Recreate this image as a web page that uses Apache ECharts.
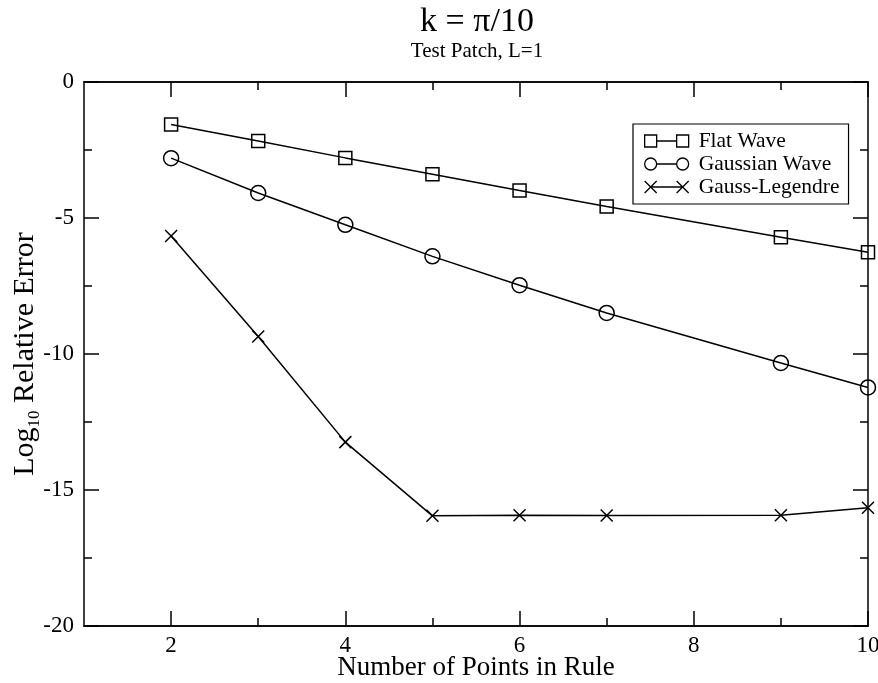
<!DOCTYPE html>
<html>
<head>
<meta charset="utf-8">
<script src="https://cdn.jsdelivr.net/npm/echarts@6/dist/echarts.min.js"></script>
<style>html,body{margin:0;padding:0;background:#fff;}#c{width:878px;height:683px;}</style>
</head>
<body>
<div id="c"></div>
<script>
const xValues = [2, 3, 4, 5, 6, 7, 9, 10];
const flatWave = [-1.56, -2.17, -2.79, -3.39, -3.99, -4.58, -5.71, -6.26];
const gaussianWave = [-2.80, -4.08, -5.25, -6.41, -7.47, -8.49, -10.33, -11.23];
const gaussLegendre = [-5.66, -9.36, -13.24, -15.95, -15.93, -15.94, -15.93, -15.65];
const xMajorTicks = [2, 4, 6, 8, 10];
const xMinorTicks = [3, 5, 7, 9];
const seriesNames = ['Flat Wave', 'Gaussian Wave', 'Gauss-Legendre'];

const FONT = '"Liberation Serif", "DejaVu Serif", serif';
const pair = (xs, ys) => xs.map((x, i) => [x, ys[i]]);

const chart = echarts.init(document.getElementById('c'), null, {renderer: 'canvas'});

const axisLine = {show: true, onZero: false, lineStyle: {color: '#000', width: 1.5}};
function xAxisDef(pos, ticks, len, labels) {
  return {
    type: 'value', position: pos, min: 1, max: 10,
    axisLine: axisLine,
    splitLine: {show: false},
    axisTick: {show: true, inside: true, length: len, customValues: ticks, lineStyle: {color: '#000', width: 1.5}},
    axisLabel: labels ? {show: true, customValues: xMajorTicks, fontFamily: FONT, fontSize: 23, color: '#000', margin: 8} : {show: false}
  };
}
function yAxisDef(pos, labels) {
  return {
    type: 'value', position: pos, min: -20, max: 0, interval: 5,
    axisLine: axisLine,
    splitLine: {show: false},
    axisTick: {show: true, inside: true, length: 15, lineStyle: {color: '#000', width: 1.5}},
    minorTick: {show: true, splitNumber: 2, length: 8, lineStyle: {color: '#000', width: 1.5}},
    axisLabel: labels ? {show: true, fontFamily: FONT, fontSize: 23, color: '#000', margin: 10} : {show: false}
  };
}

const xAxes = [
  xAxisDef('bottom', xMajorTicks, 15, true),
  xAxisDef('bottom', xMinorTicks, 8, false),
  xAxisDef('top', xMajorTicks, 15, false),
  xAxisDef('top', xMinorTicks, 8, false)
];
xAxes[0].name = 'Number of Points in Rule';
xAxes[0].nameLocation = 'middle';
xAxes[0].nameGap = 28;
xAxes[0].nameMoveOverlap = false;
xAxes[0].nameTextStyle = {fontFamily: FONT, fontSize: 27, color: '#000'};

const yAxes = [yAxisDef('left', true), yAxisDef('right', false)];
yAxes[0].name = '{a|Log}{s|10}{a| Relative Error}';
yAxes[0].nameLocation = 'middle';
yAxes[0].nameRotate = 90;
yAxes[0].nameGap = 41;
yAxes[0].nameMoveOverlap = false;
yAxes[0].nameTextStyle = {
  fontFamily: FONT, fontSize: 30, color: '#000',
  rich: {
    a: {fontFamily: FONT, fontSize: 30, color: '#000', lineHeight: 36},
    s: {fontFamily: FONT, fontSize: 17, color: '#000', lineHeight: 36, verticalAlign: 'bottom'}
  }
};

const lineStyle = {color: '#000', width: 1.5};
const option = {
  backgroundColor: '#fff',
  animation: false,
  title: {
    text: 'k = \u03c0/10', subtext: 'Test Patch, L=1',
    left: 472, top: 0, textAlign: 'center', itemGap: 2,
    textStyle: {fontFamily: FONT, fontSize: 34, fontWeight: 'normal', color: '#000'},
    subtextStyle: {fontFamily: FONT, fontSize: 21, color: '#000'}
  },
  grid: {left: 84, right: 10, top: 82, bottom: 57, containLabel: false, outerBoundsMode: 'none'},
  legend: {
    orient: 'vertical', left: 633, top: 124,
    backgroundColor: '#fff', borderColor: '#000', borderWidth: 1.2, borderRadius: 0,
    padding: [6, 9, 6, 11], itemGap: 1, itemWidth: 44, itemHeight: 13,
    textStyle: {fontFamily: FONT, fontSize: 21.5, color: '#000', lineHeight: 20, padding: [0, 0, 0, 5]},
    data: [
      {name: seriesNames[0], icon: 'path://M0,0h12v12h-12z M32,0h12v12h-12z M12,6h20'},
      {name: seriesNames[1], icon: 'path://M0,6a6,6 0 1,0 12,0a6,6 0 1,0 -12,0z M32,6a6,6 0 1,0 12,0a6,6 0 1,0 -12,0z M12,6h20'},
      {name: seriesNames[2], icon: 'path://M0,0L12,12M12,0L0,12 M32,0L44,12M44,0L32,12 M6,6H38'}
    ],
    itemStyle: {borderColor: '#000', borderWidth: 1.3}
  },
  xAxis: xAxes,
  yAxis: yAxes,
  series: [
    {
      name: seriesNames[0], type: 'line', xAxisIndex: 0, yAxisIndex: 0,
      data: pair(xValues, flatWave), symbol: 'rect', symbolSize: 13,
      itemStyle: {color: 'rgba(255,255,255,0)', borderColor: '#000', borderWidth: 1.5},
      lineStyle: lineStyle
    },
    {
      name: seriesNames[1], type: 'line', xAxisIndex: 0, yAxisIndex: 0,
      data: pair(xValues, gaussianWave), symbol: 'circle', symbolSize: 15,
      itemStyle: {color: 'rgba(255,255,255,0)', borderColor: '#000', borderWidth: 1.5},
      lineStyle: lineStyle
    },
    {
      name: seriesNames[2], type: 'line', xAxisIndex: 0, yAxisIndex: 0,
      data: pair(xValues, gaussLegendre), symbol: 'path://M0,0L10,10M10,0L0,10', symbolSize: 12,
      itemStyle: {color: 'rgba(255,255,255,0)', borderColor: '#000', borderWidth: 1.5},
      lineStyle: lineStyle
    }
  ]
};
chart.setOption(option);
</script>
</body>
</html>
